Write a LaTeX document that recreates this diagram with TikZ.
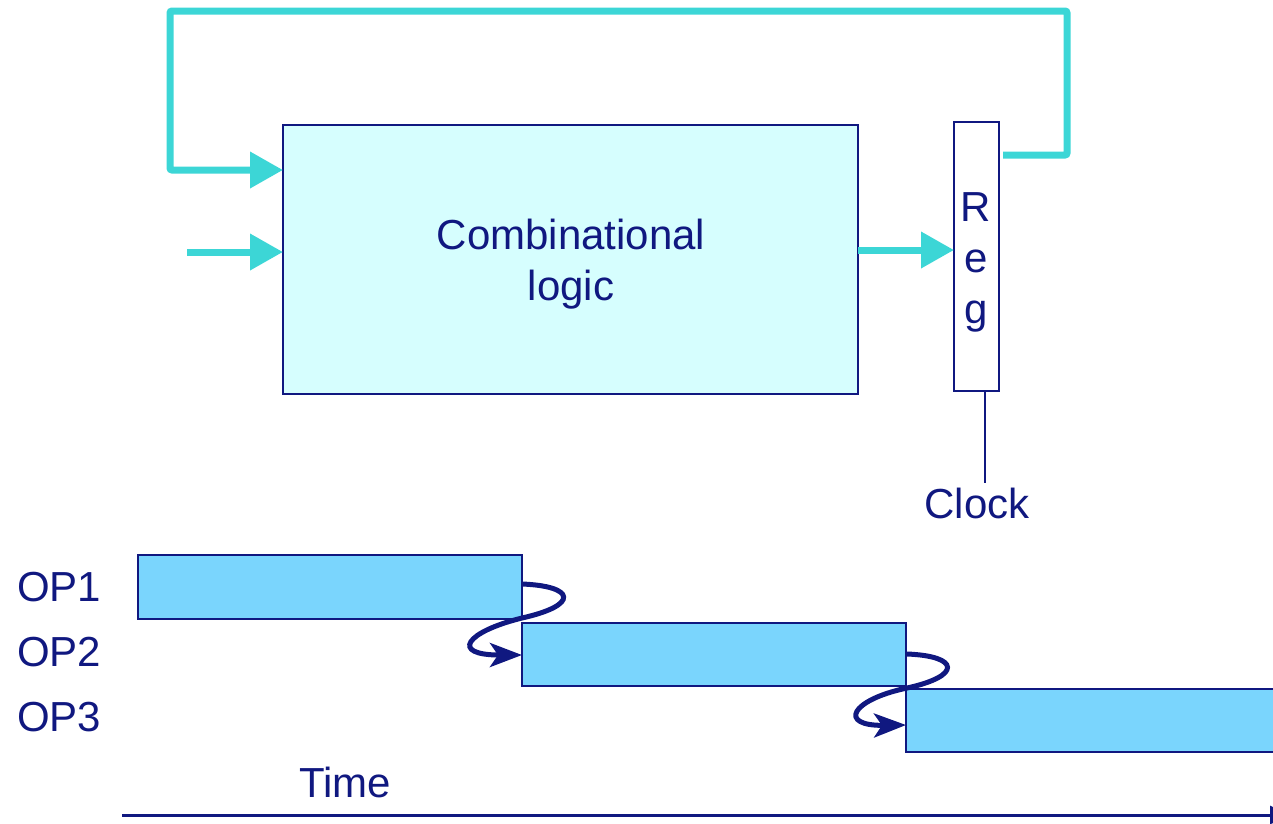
\documentclass[tikz,border=0pt]{standalone}
\usepackage{fontspec}
\setmainfont{Liberation Sans}
\usetikzlibrary{arrows.meta}
\definecolor{navy}{RGB}{16,24,128}
\definecolor{cyanline}{RGB}{60,214,214}
\definecolor{boxfill}{RGB}{214,254,254}
\definecolor{barfill}{RGB}{122,213,253}
\tikzset{
  lbl/.style={text=navy,font=\fontsize{42}{50}\selectfont,inner sep=0pt},
  feed/.style={draw=cyanline,line width=7pt,-{Triangle[length=33pt,width=35pt]}},
  bar/.style={draw=navy,line width=2pt,fill=barfill},
  curl/.style={draw=navy,line width=5pt,-{Stealth[length=32pt,width=24pt,inset=8pt]}}
}
\begin{document}
\begin{tikzpicture}[x=1pt,y=-1pt]
\useasboundingbox (0,0) rectangle (1273,823);
\clip (0,0) rectangle (1273,823);
% combinational logic
\draw[draw=navy,line width=2pt,fill=boxfill] (283,125) rectangle (858,394);
\coordinate (clTop) at (283,170);
\coordinate (clIn) at (283,252);
\coordinate (clOut) at (858,250);
\node[lbl,anchor=base] (t1) at (571,249) {Combinational};
\node[lbl,anchor=base] (t2) at (571,300) {logic};
% register
\draw[draw=navy,line width=2pt,fill=white] (954,122) rectangle (999,391);
\coordinate (regIn) at (954,250);
\coordinate (regOut) at (1003,155);
\coordinate (regBot) at (985,391);
\node[lbl,anchor=base] (r1) at (976,221) {R};
\node[lbl,anchor=base] (r2) at (976,272) {e};
\node[lbl,anchor=base] (r3) at (976,323) {g};
% clock
\node[lbl,anchor=base] (clk) at (977,518) {Clock};
\coordinate (clkTop) at (985,483);
\draw[navy,line width=2pt] (regBot) -- (clkTop);
% arrows
\coordinate (inStart) at (187,252);
\draw[feed] (inStart) -- (clIn);
\draw[feed] (clOut) -- (regIn);
\draw[feed,rounded corners=2pt] (regOut) -- (1067,155) -- (1067,11) -- (170,11) -- (170,170) -- (clTop);
% timing bars
\draw[bar] (138,555) rectangle (522,619);
\draw[bar] (522,623) rectangle (906,686);
\draw[bar] (906,689) rectangle (1290,752);
\node[lbl,anchor=base west] (op1) at (17,601) {OP1};
\node[lbl,anchor=base west] (op2) at (17,666) {OP2};
\node[lbl,anchor=base west] (op3) at (17,731) {OP3};
% curls
\coordinate (c1s) at (522,584);
\coordinate (c1e) at (522,655);
\draw[curl] (c1s) .. controls (575,586) and (580,605) .. (522,618)
  .. controls (465,632) and (450,655) .. (c1e);
\coordinate (c2s) at (907,654);
\coordinate (c2e) at (906,725);
\draw[curl] (c2s) .. controls (960,656) and (962,676) .. (907,688)
  .. controls (850,700) and (838,726) .. (c2e);
% time axis
\node[lbl,anchor=base] (time) at (345,797) {Time};
\coordinate (ax0) at (122,815);
\coordinate (ax1) at (1290,815);
\draw[navy,line width=3pt,-{Triangle[length=20pt,width=18pt]}] (ax0) -- (ax1);
\end{tikzpicture}
\end{document}
